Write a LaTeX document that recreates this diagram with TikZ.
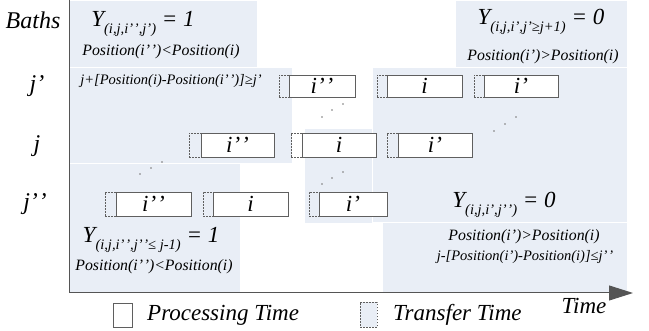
\documentclass[tikz,border=0pt]{standalone}
\usepackage{fontspec}
\setmainfont{Liberation Serif}
\usetikzlibrary{arrows.meta}
\definecolor{shadeblue}{RGB}{233,238,246}
\definecolor{axisgray}{RGB}{85,85,85}
\definecolor{boxgray}{RGB}{95,95,95}
\definecolor{dotgray}{RGB}{120,120,120}
\newcommand{\ysub}[1]{\raisebox{-0.28em}{\fontsize{14.5}{14.5}\selectfont #1}}
\newcommand{\pp}{’\kern0.8pt’}
\newcommand{\jobitem}[7]{%
  \pgfmathsetmacro{\jw}{#4-#3}\pgfmathsetmacro{\jc}{(#3+#4)/2}%
  \pgfmathsetmacro{\tw}{#3-#2+2}\pgfmathsetmacro{\tc}{(#2+#3+2)/2}%
  \node[transbox, minimum width=\tw pt, minimum height=#6pt] (#1t) at (\tc,#5) {};
  \node[procbox, minimum width=\jw pt, minimum height=#6pt] (#1) at (\jc,#5) {#7};
}
\begin{document}
\begin{tikzpicture}[x=1pt,y=-1pt,
  shadebox/.style={fill=shadeblue, draw=white, line width=0.5pt},
  procbox/.style={draw=boxgray, fill=white, line width=0.9pt, inner sep=0pt, font=\fontsize{23}{23}\selectfont\itshape},
  transbox/.style={draw=boxgray, dash pattern=on 1.8pt off 1.2pt, line width=0.6pt, inner sep=0pt},
  lbl/.style={font=\fontsize{24}{24}\selectfont\itshape, inner sep=0pt},
  leg/.style={font=\fontsize{23}{23}\selectfont\itshape, inner sep=0pt},
  ylbl/.style={font=\fontsize{23}{23}\selectfont\itshape, inner sep=0pt},
  postext/.style={font=\fontsize{15.8}{15.8}\selectfont\itshape, inner sep=0pt},
  condtext/.style={font=\fontsize{14.5}{14.5}\selectfont\itshape, inner sep=0pt},
  dotmark/.style={fill=dotgray, draw=none, circle, minimum size=1.8pt, inner sep=0pt},
  axisline/.style={draw=axisgray, line width=1pt}]
\useasboundingbox (0,0) rectangle (649,331);
% shaded regions
\fill[shadebox] (69,0) rectangle (257,67);
\fill[shadebox] (69,67) rectangle (292,163);
\fill[shadebox] (69,163) rectangle (240,293);
\fill[shadebox] (304,128) rectangle (372,223);
\fill[shadebox] (455,0) rectangle (627,67);
\fill[shadebox] (372,67) rectangle (627,222);
\fill[shadebox] (382,222) rectangle (627,293);
% axes
\coordinate (top) at (69,0);
\coordinate (origin) at (69,293);
\coordinate (tip) at (633,293);
\draw[axisline, -{Triangle[length=24pt,width=15pt]}] (top) -- (origin) -- (tip);
% row labels
\node[lbl] (baths) at (33,20) {Baths};
\node[lbl] (rjp) at (37,86) {j’};
\node[lbl] (rj) at (37,146) {j};
\node[lbl] (rjpp) at (35,204) {j\pp};
% jobs
\jobitem{a1}{279}{289}{355}{86}{22}{i\pp}
\jobitem{a2}{377}{387}{462}{86}{22}{i}
\jobitem{a3}{474}{484}{558}{86}{22}{i’}
\jobitem{b1}{189}{201}{274}{145}{24}{i\pp}
\jobitem{b2}{291}{302}{376}{145}{24}{i}
\jobitem{b3}{387}{398}{472}{145}{24}{i’}
\jobitem{c1}{105}{116}{191}{204}{24}{i\pp}
\jobitem{c2}{203}{213}{288}{204}{24}{i}
\jobitem{c3}{309}{319}{387}{204}{24}{i’}
% dots
\node[dotmark] (d1) at (322,117) {};
\node[dotmark] (d2) at (332,110) {};
\node[dotmark] (d3) at (343,104) {};
\node[dotmark] (d4) at (140,174) {};
\node[dotmark] (d5) at (151,168) {};
\node[dotmark] (d6) at (162,162) {};
\node[dotmark] (d7) at (322,184) {};
\node[dotmark] (d8) at (332,178) {};
\node[dotmark] (d9) at (343,172) {};
\node[dotmark] (d10) at (494,131) {};
\node[dotmark] (d11) at (505,124) {};
\node[dotmark] (d12) at (516,117) {};
% texts
\node[ylbl] (y1) at (143,24) {Y\ysub{(i,j,i\pp,j’)} = 1};
\node[postext] (p1) at (161,52) {Position(i\pp)<Position(i)};
\node[condtext] (k1) at (171,81) {j+[Position(i)-Position(i\pp)]≥j’};
\node[ylbl] (y2) at (541,22) {Y\ysub{(i,j,i’,j’≥j+1)} = 0};
\node[postext] (p2) at (543,57) {Position(i’)>Position(i)};
\node[ylbl] (y3) at (151,240) {Y\ysub{(i,j,i\pp,j\pp≤ j-1)} = 1};
\node[postext] (p3) at (154,267) {Position(i\pp)<Position(i)};
\node[ylbl] (y4) at (504,205) {Y\ysub{(i,j,i’,j\pp)} = 0};
\node[postext] (p4) at (524,237) {Position(i’)>Position(i)};
\node[condtext] (k2) at (525,257) {j-[Position(i’)-Position(i)]≤j\pp};
% legend
\node[draw=boxgray, line width=0.8pt, minimum width=19pt, minimum height=24pt, inner sep=0pt] (lgp) at (122.5,315) {};
\node[leg, anchor=west] (lgpt) at (147,315) {Processing Time};
\node[transbox, fill=shadeblue, minimum width=17pt, minimum height=25pt] (lgt) at (368.5,315) {};
\node[leg, anchor=west] (lgtt) at (393,315) {Transfer Time};
\node[leg] (timel) at (584,306) {Time};
\end{tikzpicture}
\end{document}
